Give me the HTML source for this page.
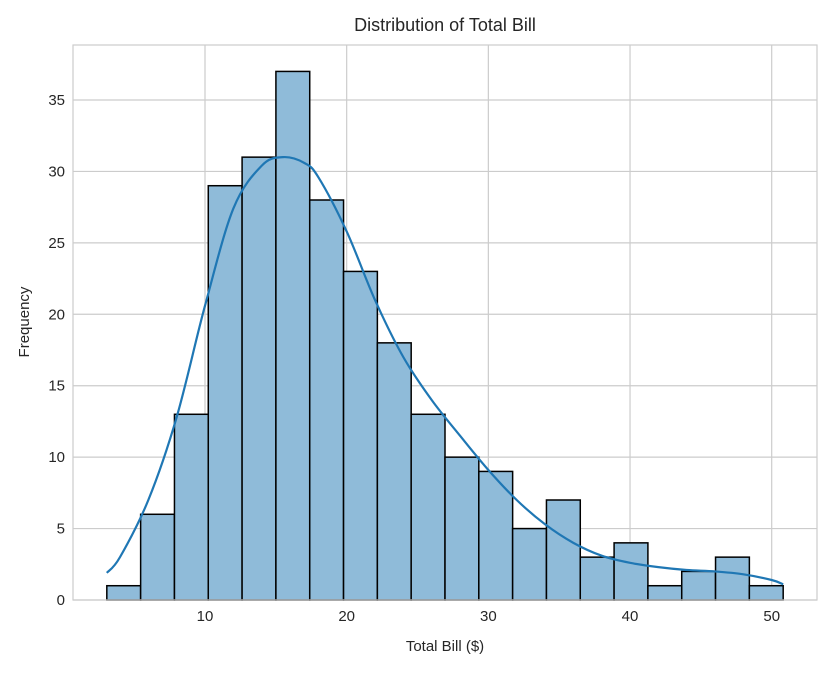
<!DOCTYPE html>
<html><head><meta charset="utf-8">
<style>
body{margin:0;background:#fff;font-family:"Liberation Sans",sans-serif;}
svg text{font-family:"Liberation Sans",sans-serif;fill:#262626;}
</style></head>
<body>
<svg id="chart" width="832" height="670" viewBox="0 0 832 670" xmlns="http://www.w3.org/2000/svg">
<g id="grid"></g>
<g id="bars"></g>
<path id="kde" fill="none" stroke="#1f77b4" stroke-width="2.2"/>
<rect x="73" y="45" width="744" height="555" fill="none" stroke="#cccccc" stroke-width="1.2"/>
<g id="ticks"></g>
<text x="445" y="31" font-size="18" text-anchor="middle">Distribution of Total Bill</text>
<text x="445" y="651" font-size="15" text-anchor="middle">Total Bill ($)</text>
<text x="29" y="322" font-size="15" text-anchor="middle" transform="rotate(-90 29 322)">Frequency</text>
</svg>
<script>
const binStart = 3.07;
const binEnd = 50.81;
const counts = [1,6,13,29,31,37,28,23,18,13,10,9,5,7,3,4,1,2,3,1];
const kdeX = [3.07,4,6,8,10,12,14,15.5,17,18,20,22,24,26,28,30,32,34,36,38,40,42,44,46,48,50,50.81];
const kdeY = [1.9,3.0,7,12.8,20.6,27.4,30.4,31,30.6,29.6,25.8,21,17,14,11.5,9.1,7,5.3,4,3.1,2.6,2.3,2.1,2,1.8,1.4,1.1];
const xTicks = [10,20,30,40,50];
const yTicks = [0,5,10,15,20,25,30,35];
const NS="http://www.w3.org/2000/svg";
const L=73,R=817,T=45,B=600;
const xmin=0.683,xmax=53.197,ymax=38.85;
const sx=v=>L+(v-xmin)/(xmax-xmin)*(R-L);
const sy=v=>B-v/ymax*(B-T);
const grid=document.getElementById('grid'),bars=document.getElementById('bars'),ticks=document.getElementById('ticks');
function mk(tag,attrs,parent){const e=document.createElementNS(NS,tag);for(const k in attrs)e.setAttribute(k,attrs[k]);parent.appendChild(e);return e;}
xTicks.forEach(t=>{
  const l=mk('line',{x1:sx(t),x2:sx(t),y1:T,y2:B,stroke:'#cccccc','stroke-width':1.2},grid);
  
  
  const tx=mk('text',{x:sx(t),y:B+21,'font-size':15,'text-anchor':'middle'},ticks);
  tx.textContent=t;
  
  
});
yTicks.forEach(t=>{
  const l=mk('line',{x1:L,x2:R,y1:sy(t),y2:sy(t),stroke:'#cccccc','stroke-width':1.2},grid);
  
  
  const tx=mk('text',{x:L-8,y:sy(t)+5,'font-size':15,'text-anchor':'end'},ticks);
  tx.textContent=t;
  
  
});
const w=(binEnd-binStart)/counts.length;
counts.forEach((c,i)=>{
  const x0=sx(binStart+i*w),x1=sx(binStart+(i+1)*w);
  const r=mk('rect',{x:x0,y:sy(c),width:x1-x0,height:sy(0)-sy(c),fill:'#8fbbd9',stroke:'#000','stroke-width':1.5},bars);
  
  
});
const pts=kdeX.map((x,i)=>[sx(x),sy(kdeY[i])]);
let d='M'+pts[0][0]+','+pts[0][1];
for(let i=0;i<pts.length-1;i++){
  const p0=pts[Math.max(0,i-1)],p1=pts[i],p2=pts[i+1],p3=pts[Math.min(pts.length-1,i+2)];
  const c1=[p1[0]+(p2[0]-p0[0])/6,p1[1]+(p2[1]-p0[1])/6];
  const c2=[p2[0]-(p3[0]-p1[0])/6,p2[1]-(p3[1]-p1[1])/6];
  d+=` C${c1[0]},${c1[1]} ${c2[0]},${c2[1]} ${p2[0]},${p2[1]}`;
}
document.getElementById('kde').setAttribute('d',d);
</script>
</body></html>
